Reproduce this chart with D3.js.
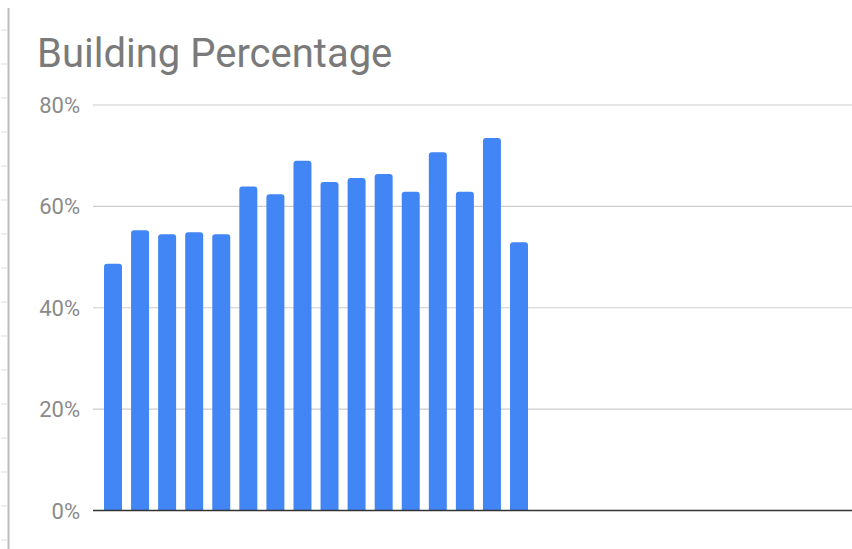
<!DOCTYPE html>
<head>
  <meta charset="utf-8">
  <script src="https://d3js.org/d3.v7.min.js"></script>
  <style>
    body { margin:0; background:#fff; font-family: Roboto, "Noto Sans", sans-serif; }
    .tick-label { fill:#8a8a8a; font-size:22px; }
    .title { fill:#7a7a7a; font-size:40px; }
  </style>
</head>
<body>
<script>
  // data
  const categories = ["1","2","3","4","5","6","7","8","9","10","11","12","13","14","15","16"];
  const values = [48.7, 55.3, 54.5, 54.9, 54.5, 63.9, 62.4, 69.0, 64.8, 65.6, 66.4, 62.9, 70.7, 62.9, 73.5, 52.9];
  const yTicks = [0, 20, 40, 60, 80];

  const W = 852, H = 549;
  const plot = {left: 93, right: 852, top: 105, bottom: 510.5};

  const svg = d3.select("body").append("svg")
      .attr("width", W)
      .attr("height", H);

  // stray ruler line on the left edge
  svg.append("line")
      .attr("x1", 8.5).attr("x2", 8.5)
      .attr("y1", 8).attr("y2", H)
      .attr("stroke", "#bdbdbd").attr("stroke-width", 2);
  svg.selectAll(".ruler")
      .data(d3.range(16))
      .enter().append("line")
      .attr("x1", 1).attr("x2", 7)
      .attr("y1", i => 30 + i * 34).attr("y2", i => 30 + i * 34)
      .attr("stroke", "#dcdcdc").attr("stroke-width", 1);

  svg.append("text")
      .attr("class", "title")
      .attr("x", 37).attr("y", 67)
      .text("Building Percentage");

  const y = d3.scaleLinear().domain([0, 80]).range([plot.bottom, plot.top]);
  const x = d3.scaleBand().domain(categories).range([104, 528])
      .paddingInner(0.336).paddingOuter(0);

  svg.selectAll(".grid")
      .data(yTicks.filter(d => d > 0))
      .enter().append("line")
      .attr("x1", plot.left).attr("x2", plot.right)
      .attr("y1", d => y(d)).attr("y2", d => y(d))
      .attr("stroke", "#cccccc").attr("stroke-width", 1.2);

  svg.selectAll(".tick-label")
      .data(yTicks)
      .enter().append("text")
      .attr("class", "tick-label")
      .attr("x", 80)
      .attr("y", d => y(d) + 8)
      .attr("text-anchor", "end")
      .text(d => d + "%");

  // bars with rounded top corners
  const r = 3;
  svg.selectAll(".bar")
      .data(values)
      .enter().append("path")
      .attr("class", "bar")
      .attr("fill", "#4285f4")
      .attr("d", (d, i) => {
        const x0 = x(categories[i]), w = x.bandwidth();
        const y0 = y(d), y1 = y(0);
        return `M${x0},${y1}V${y0 + r}Q${x0},${y0} ${x0 + r},${y0}H${x0 + w - r}Q${x0 + w},${y0} ${x0 + w},${y0 + r}V${y1}Z`;
      });

  svg.append("line")
      .attr("x1", plot.left).attr("x2", plot.right)
      .attr("y1", y(0)).attr("y2", y(0))
      .attr("stroke", "#333").attr("stroke-width", 1.6);
</script>
</body>
